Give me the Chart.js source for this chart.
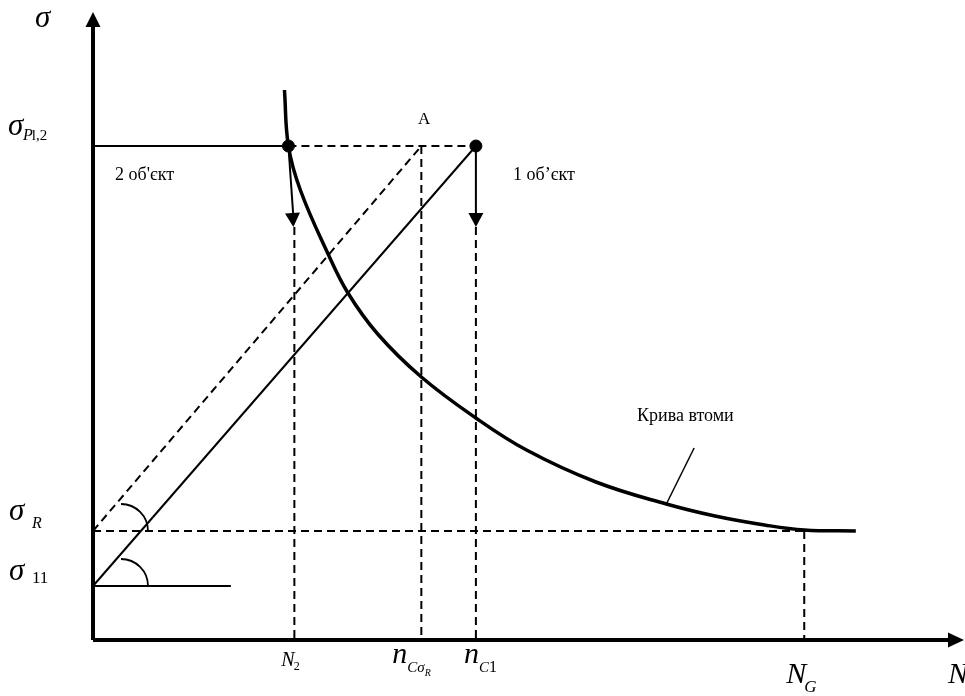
<!DOCTYPE html>
<html><head><meta charset="utf-8">
<script src="https://cdn.jsdelivr.net/npm/chart.js@4"></script>
<style>html,body{margin:0;padding:0;background:#fff}#wrap{width:965px;height:696px;overflow:hidden}</style>
</head><body><div id="wrap"><canvas id="c" width="965" height="696"></canvas></div>
<script>
// ---- schematic data (arbitrary units) ----
const curveN = [193, 197, 209, 237, 257, 287, 331, 386, 437, 507, 578, 627, 677, 717, 769];
const curveS = [550, 494, 450, 386, 347, 306, 263, 222, 190, 158, 136, 124, 115, 110, 109];
const sigma11 = 54, sigmaR = 109, sigmaP = 494;
const N2 = 203, nCsR = 331, nC1 = 386, NG = 717, Npt2 = 197;
const arrowEnd = 413;
const xMax = 872, yMax = 628;
const angleLineEnd = 139;
const pointerFrom = [578, 136], pointerTo = [606, 192];

const FONT = '"Liberation Serif","Times New Roman",serif';
const seg = (a, b) => [{x: a[0], y: a[1]}, {x: b[0], y: b[1]}];
const line = (data, w, dash) => ({data, showLine: true, borderColor: '#000', borderWidth: w,
  borderDash: dash || [], pointRadius: 0, fill: false, clip: false, tension: 0});
const D = [8, 5];

const datasets = [
  {data: [{x: Npt2, y: sigmaP}, {x: nC1, y: sigmaP}], showLine: false, pointRadius: 6,
   pointBackgroundColor: '#000', pointBorderColor: '#000', clip: false},
  line(seg([0, 0], [0, yMax - 13]), 4),
  line(seg([0, 0], [xMax - 10, 0]), 4),
  Object.assign(line(curveN.map((n, i) => ({x: n, y: curveS[i]})), 3.5), {tension: 0.4}),
  line(seg([0, sigmaP], [Npt2, sigmaP]), 2),
  line(seg([Npt2, sigmaP], [nC1, sigmaP]), 2, D),
  line(seg([0, sigma11], [nC1, sigmaP]), 2),
  line(seg([0, sigma11], [angleLineEnd, sigma11]), 2),
  line(seg([0, sigmaR], [nCsR, sigmaP]), 2, D),
  line(seg([nCsR, sigmaP], [nCsR, 0]), 2, D),
  line(seg([0, sigmaR], [NG, sigmaR]), 2, D),
  line(seg([NG, sigmaR], [NG, 0]), 2, D),
  line(seg([Npt2, sigmaP], [N2 - 1, arrowEnd + 10]), 2),
  line(seg([N2, arrowEnd], [N2, 0]), 2, D),
  line(seg([nC1, sigmaP], [nC1, arrowEnd + 10]), 2),
  line(seg([nC1, arrowEnd], [nC1, 0]), 2, D),
  line(seg(pointerFrom, pointerTo), 1.5)
];

const deco = {
  id: 'deco',
  afterDatasetsDraw(chart) {
    const ctx = chart.ctx, xs = chart.scales.x, ys = chart.scales.y;
    const X = v => xs.getPixelForValue(v), Y = v => ys.getPixelForValue(v);
    ctx.save();
    ctx.fillStyle = '#000'; ctx.strokeStyle = '#000';
    function head(tx, ty, fx, fy, len, hw) {
      const a = Math.atan2(ty - fy, tx - fx);
      const bx = tx - len * Math.cos(a), by = ty - len * Math.sin(a);
      ctx.beginPath();
      ctx.moveTo(tx, ty);
      ctx.lineTo(bx + hw * Math.sin(a), by - hw * Math.cos(a));
      ctx.lineTo(bx - hw * Math.sin(a), by + hw * Math.cos(a));
      ctx.closePath(); ctx.fill();
    }
    head(X(0), Y(yMax), X(0), Y(0), 15, 7.5);
    head(X(xMax) + 6, Y(0), X(0), Y(0), 16, 7.5);
    head(X(N2 - 1), Y(arrowEnd), X(Npt2), Y(sigmaP), 14, 7.5);
    head(X(nC1), Y(arrowEnd), X(nC1), Y(sigmaP), 14, 7.5);
    ctx.lineWidth = 1.8;
    [sigma11, sigmaR].forEach(s => {
      ctx.beginPath();
      ctx.arc(X(0) + 28, Y(s), 27, -Math.PI / 2, 0);
      ctx.stroke();
    });
    ctx.textBaseline = 'alphabetic'; ctx.textAlign = 'left';
    function t(s, x, y, size, it) {
      ctx.font = (it ? 'italic ' : '') + size + 'px ' + FONT;
      ctx.fillText(s, x, y);
      return x + ctx.measureText(s).width;
    }
    // y labels
    t('σ', 35, 27, 31, true);
    t('σ', 8, Y(sigmaP) - 11, 31, true);
    let e = t('P', 23, Y(sigmaP) - 6, 16, true);
    t('l,2', e - 1, Y(sigmaP) - 6, 15, false);
    t('σ', 9, Y(sigmaR) - 11, 31, true);
    t('R', 32, Y(sigmaR) - 3, 16, true);
    t('σ', 9, Y(sigma11) - 6, 31, true);
    t('11', 32, Y(sigma11) - 3, 17, false);
    // x tick labels
    const by = 666;
    e = t('N', X(N2) - 13, by, 20, true); t('2', e - 1, by + 4, 12, false);
    e = t('n', X(nCsR) - 29, by - 3, 30, true);
    e = t('C', e, by + 6, 15, true); e = t('σ', e, by + 6, 15, true); t('R', e, by + 10, 10, true);
    e = t('n', X(nC1) - 12, by - 3, 30, true);
    e = t('C', e, by + 6, 15, true); t('1', e, by + 6, 16, false);
    e = t('N', X(NG) - 18, 683, 30, true); t('G', e - 2, 692, 17, true);
    t('N', 948, 683, 30, true);
    // other labels
    t('A', 418, 124, 17, false);
    t('2 об\'єкт', 115, 180, 18, false);
    t('1 об’єкт', 513, 180, 18, false);
    t('Крива втоми', 637, 421, 18, false);
    ctx.restore();
  }
};

new Chart(document.getElementById('c'), {
  type: 'scatter',
  data: {datasets},
  options: {
    responsive: false, animation: false, devicePixelRatio: 1,
    layout: {padding: {left: 93, right: 0, top: 12, bottom: 56}},
    plugins: {legend: {display: false}, tooltip: {enabled: false}},
    scales: {
      x: {type: 'linear', min: 0, max: xMax, display: false},
      y: {type: 'linear', min: 0, max: yMax, display: false}
    }
  },
  plugins: [deco]
});
</script></body></html>
